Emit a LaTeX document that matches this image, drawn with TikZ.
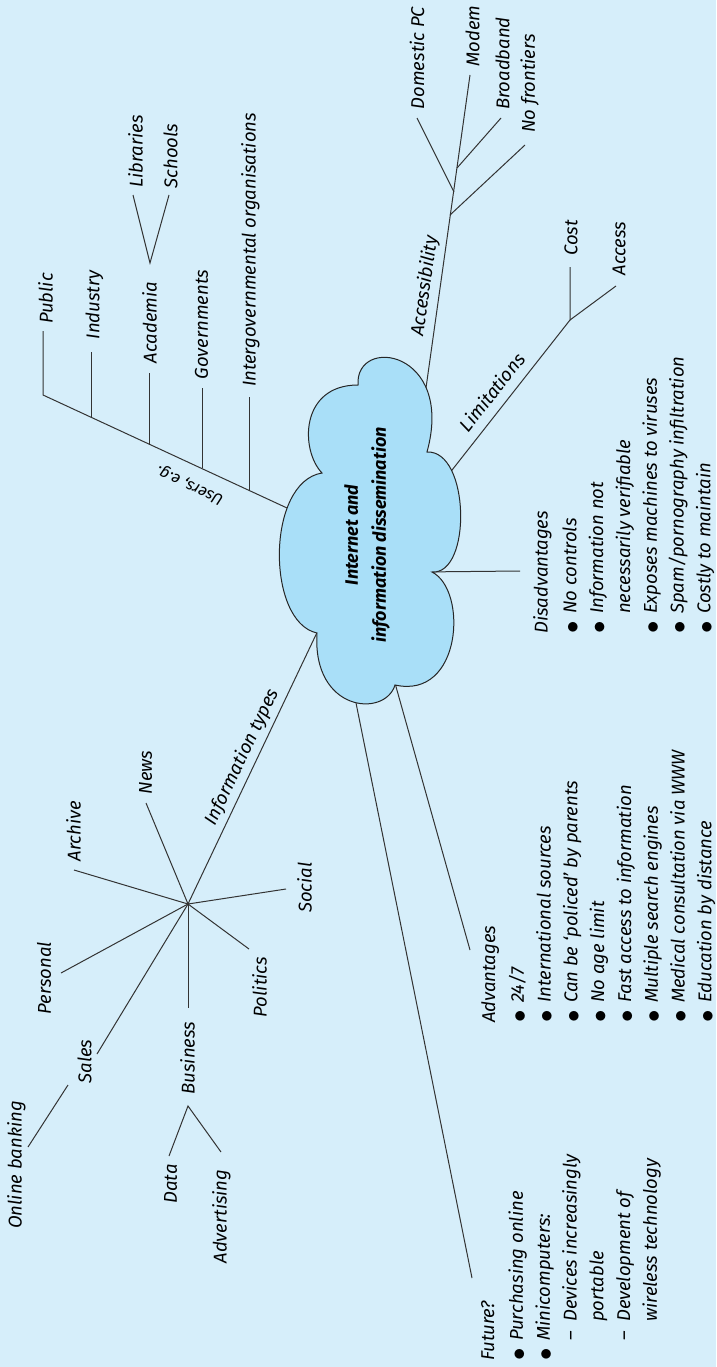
\documentclass[tikz,border=0pt]{standalone}
\usepackage{fontspec}
\setmainfont{Fira Sans}
\usepackage{tikz}
\usetikzlibrary{calc}

\definecolor{bgblue}{HTML}{D6EEFA}
\definecolor{cloudblue}{HTML}{A9DFF8}

% bullets and indents for the lists
\newcommand{\dotb}{\makebox[20pt][l]{\raisebox{-2.6pt}{\fontsize{27}{27}\selectfont$\bullet$}}}
\newcommand{\itc}{\hspace*{20pt}}
\newcommand{\subi}{\hspace*{20pt}\makebox[19pt][l]{--}}
\newcommand{\subc}{\hspace*{39pt}}

\begin{document}
\begin{tikzpicture}[
    x=1pt, y=-1pt,
    branch/.style={draw=black!80, line width=1pt},
    lbl/.style={font=\fontsize{18.5}{21}\selectfont\itshape, rotate=90, inner sep=0pt},
    tiltlbl/.style={font=\fontsize{18.5}{21}\selectfont\itshape, rotate=#1, inner sep=0pt},
    listbox/.style={font=\fontsize{18.5}{26.8}\selectfont\itshape, rotate=90, anchor=north west, align=left, inner sep=0pt},
    cloudtxt/.style={font=\fontsize{18}{28}\selectfont\bfseries\itshape, rotate=90, align=center, inner sep=0pt}
]
\path[use as bounding box, fill=bgblue] (0,0) rectangle (716,1367);

% Users branch
\coordinate (usr0) at (300,514);
\coordinate (usr1) at (43,395);
\coordinate (pubT) at (43,331);
\coordinate (indB) at (91,417);   \coordinate (indT) at (91,352);
\coordinate (acaB) at (149,444);  \coordinate (acaT) at (149,373);
\coordinate (acaV) at (150,263);
\coordinate (libT) at (133,195);  \coordinate (schT) at (169,195);
\coordinate (govB) at (202,468);  \coordinate (govT) at (202,388);
\coordinate (igoB) at (249,490);  \coordinate (igoT) at (249,397);

\draw[branch] (usr0) -- (usr1) -- (pubT);
\draw[branch] (indB) -- (indT);
\draw[branch] (acaB) -- (acaT);
\draw[branch] (libT) -- (acaV) -- (schT);
\draw[branch] (govB) -- (govT);
\draw[branch] (igoB) -- (igoT);

% Accessibility branch
\coordinate (acc0) at (425,395);
\coordinate (acc1) at (470,75);
\coordinate (dpcJ) at (454,192);  \coordinate (dpcT) at (417,118);
\coordinate (brdJ) at (457,168);  \coordinate (brdT) at (501,118);
\coordinate (nofJ) at (450,215);  \coordinate (nofT) at (525,145);

\draw[branch] (acc0) -- (acc1);
\draw[branch] (dpcJ) -- (dpcT);
\draw[branch] (brdJ) -- (brdT);
\draw[branch] (nofJ) -- (nofT);

% Limitations branch
\coordinate (lim0) at (445,479);
\coordinate (lim1) at (570,320);
\coordinate (costT) at (570,267);
\coordinate (accsT) at (616,286);

\draw[branch] (lim0) -- (lim1) -- (costT);
\draw[branch] (lim1) -- (accsT);

% Disadvantages, advantages, future
\coordinate (dis0) at (420,572);  \coordinate (dis1) at (520,571);
\coordinate (adv0) at (393,676);  \coordinate (adv1) at (470,950);
\coordinate (fut0) at (354,693);  \coordinate (fut1) at (472,1278);

\draw[branch] (dis0) -- (dis1);
\draw[branch] (adv0) -- (adv1);
\draw[branch] (fut0) -- (fut1);

% Information types
\coordinate (inf0) at (322,622);
\coordinate (hub) at (188,904);
\coordinate (newsT) at (146,803);
\coordinate (archT) at (74,870);
\coordinate (socT) at (286,889);
\coordinate (polT) at (249,949);
\coordinate (busT) at (188,1008);
\coordinate (perT) at (61,973);
\coordinate (salT) at (97,1054);
\coordinate (onlJ) at (68,1085);  \coordinate (onlT) at (28,1147);
\coordinate (busV) at (188,1106);
\coordinate (datT) at (169,1156); \coordinate (advT) at (221,1152);

\draw[branch] (inf0) -- (hub);
\foreach \e in {newsT,archT,socT,polT,busT,perT,salT}
    \draw[branch] (hub) -- (\e);
\draw[branch] (onlJ) -- (onlT);
\draw[branch] (datT) -- (busV) -- (advT);

% Cloud
\draw[fill=cloudblue, draw=black!85, line width=1pt]
    (322,473) .. controls (300,450) and (300,385) .. (358,385)
    .. controls (355,335) and (455,350) .. (427,452)
    .. controls (470,450) and (472,575) .. (432,572)
    .. controls (468,590) and (462,700) .. (395,685)
    .. controls (385,718) and (312,712) .. (317,633)
    .. controls (266,622) and (266,482) .. cycle;
\node[cloudtxt] (cloud) at (367,535) {Internet and\\information dissemination};

% Users labels
\node[lbl] (pub) at (45.5,298.5) {Public};
\node[lbl] (ind) at (94.5,305) {Industry};
\node[lbl] (aca) at (149.5,322.5) {Academia};
\node[lbl] (lib) at (135.5,151.5) {Libraries};
\node[lbl] (sch) at (170.5,156) {Schools};
\node[lbl] (gov) at (201.5,324.5) {Governments};
\node[lbl] (igo) at (250.5,250) {Intergovernmental organisations};
\node[tiltlbl=155.2, font=\fontsize{16}{18}\selectfont\itshape] (usr) at (190,485) {Users, e.g.};

% Accessibility labels
\node[tiltlbl=82] (acc) at (425,286) {Accessibility};
\node[lbl] (dpc) at (417,58) {Domestic PC};
\node[lbl] (mdm) at (472.5,36) {Modem};
\node[lbl] (brd) at (502.5,63.5) {Broadband};
\node[lbl] (nof) at (529.5,83.5) {No frontiers};

% Limitations labels
\node[tiltlbl=51.8] (lim) at (492,392) {Limitations};
\node[lbl] (cost) at (571,238) {Cost};
\node[lbl] (accs) at (619,248.5) {Access};

% Information types labels
\node[tiltlbl=64.5] (inf) at (242,757) {Information types};
\node[lbl] (news) at (145.5,772.5) {News};
\node[lbl] (arch) at (73.5,831) {Archive};
\node[lbl] (soc) at (304.5,887.5) {Social};
\node[lbl] (pol) at (259.5,987) {Politics};
\node[lbl] (per) at (44,978) {Personal};
\node[lbl] (bus) at (187.5,1058) {Business};
\node[lbl] (sal) at (84.5,1061.5) {Sales};
\node[lbl] (onl) at (16.5,1165) {Online banking};
\node[lbl] (dat) at (170.5,1184) {Data};
\node[lbl] (adt) at (221.5,1216.5) {Advertising};

% Lists
\node[listbox] (disList) at (533,634) {Disadvantages\\[2pt]
    \dotb No controls\\
    \dotb Information not\\
    \itc necessarily verifiable\\
    \dotb Exposes machines to viruses\\
    \dotb Spam/pornography infiltration\\
    \dotb Costly to maintain};
\node[listbox] (advList) at (481,1023) {Advantages\\[2pt]
    \dotb 24/7\\
    \dotb International sources\\
    \dotb Can be `policed' by parents\\
    \dotb No age limit\\
    \dotb Fast access to information\\
    \dotb Multiple search engines\\
    \dotb Medical consultation via WWW\\
    \dotb Education by distance};
\node[listbox] (futList) at (481,1361) {Future?\\[2pt]
    \dotb Purchasing online\\
    \dotb Minicomputers:\\
    \subi Devices increasingly\\
    \subc portable\\
    \subi Development of\\
    \subc wireless technology};
\end{tikzpicture}
\end{document}
